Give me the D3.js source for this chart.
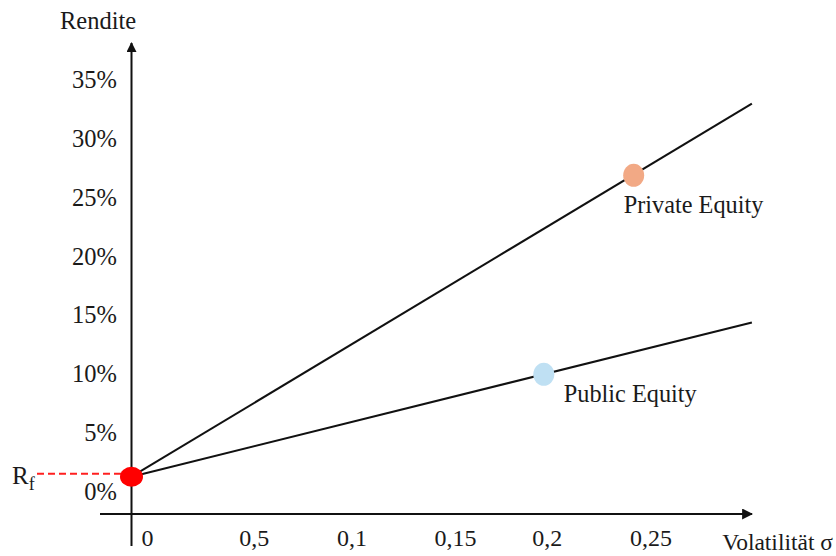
<!DOCTYPE html>
<html>
<head>
<meta charset="utf-8">
<script src="https://cdn.jsdelivr.net/npm/d3@7"></script>
<style>
  html, body { margin: 0; padding: 0; background: #fff; }
  svg text { font-family: "Liberation Serif", "Times New Roman", serif; fill: #1a1a1a; }
</style>
</head>
<body>
<svg id="chart" width="836" height="556"></svg>
<script>
// Tick values and their printed labels
const xTickValues = [0, 0.05, 0.1, 0.15, 0.2, 0.25];
const xTickLabels = ["0", "0,5", "0,1", "0,15", "0,2", "0,25"];
const yTickValues = [0, 5, 10, 15, 20, 25, 30, 35];
const yTickLabels = ["0%", "5%", "10%", "15%", "20%", "25%", "30%", "35%"];

// Risk-free rate (return in %, at zero volatility)
const riskFreeReturn = 1.3;

// Asset classes: volatility, return (%), and where each capital market line ends
const assetNames = ["Private Equity", "Public Equity"];
const assetVolatility = [0.257, 0.211];
const assetReturn = [26.9, 10.0];
const lineEndVolatility = [0.3175, 0.3175];
const lineEndReturn = [33.0, 14.4];
const assetColors = ["#f2a985", "#bfe0f3"];

const svg = d3.select("#chart");

const x = d3.scaleLinear().domain([0, 0.3]).range([131.5, 717.7]);
const y = d3.scaleLinear().domain([0, 35]).range([492, 80]);

// Arrow marker for both axes
svg.append("defs").append("marker")
  .attr("id", "arrow")
  .attr("viewBox", "0 0 10 10")
  .attr("refX", 9).attr("refY", 5)
  .attr("markerWidth", 5).attr("markerHeight", 5)
  .attr("markerUnits", "strokeWidth")
  .attr("orient", "auto")
  .append("path").attr("d", "M0,0 L10,5 L0,10 Z").attr("fill", "#111");

const axisY = 514;

// Horizontal axis
svg.append("line")
  .attr("x1", 100).attr("y1", axisY)
  .attr("x2", 752).attr("y2", axisY)
  .attr("stroke", "#111").attr("stroke-width", 2.2)
  .attr("marker-end", "url(#arrow)");

// Vertical axis
svg.append("line")
  .attr("x1", x(0)).attr("y1", 546)
  .attr("x2", x(0)).attr("y2", 43)
  .attr("stroke", "#111").attr("stroke-width", 2)
  .attr("marker-end", "url(#arrow)");

// Axis titles
svg.append("text").attr("x", 60).attr("y", 29)
  .attr("font-size", 24.5).text("Rendite");
svg.append("text").attr("x", 833).attr("y", 550)
  .attr("text-anchor", "end")
  .attr("font-size", 23.5).text("Volatilität σ");

// Y tick labels
svg.append("g").selectAll("text")
  .data(yTickValues)
  .join("text")
  .attr("x", 117)
  .attr("y", d => y(d) + 8)
  .attr("text-anchor", "end")
  .attr("font-size", 24.5)
  .text((d, i) => yTickLabels[i]);

// X tick labels
svg.append("g").selectAll("text")
  .data(xTickValues)
  .join("text")
  .attr("x", d => x(d) + 10)
  .attr("y", 546)
  .attr("font-size", 24)
  .text((d, i) => xTickLabels[i]);

// Capital market lines from the risk-free rate
svg.append("g").selectAll("line")
  .data(assetNames)
  .join("line")
  .attr("x1", x(0)).attr("y1", y(riskFreeReturn))
  .attr("x2", (d, i) => x(lineEndVolatility[i]))
  .attr("y2", (d, i) => y(lineEndReturn[i]))
  .attr("stroke", "#111").attr("stroke-width", 2);

// Dashed guide to the R_f label
svg.append("line")
  .attr("x1", 37).attr("y1", y(riskFreeReturn) - 3)
  .attr("x2", x(0)).attr("y2", y(riskFreeReturn) - 3)
  .attr("stroke", "#ff2020").attr("stroke-width", 2)
  .attr("stroke-dasharray", "7,4");

const rf = svg.append("text").attr("x", 12).attr("y", 484).attr("font-size", 25);
rf.append("tspan").text("R");
rf.append("tspan").attr("font-size", 18).attr("dy", 6).text("f");

// Risk-free point
svg.append("ellipse")
  .attr("cx", x(0)).attr("cy", y(riskFreeReturn))
  .attr("rx", 11.5).attr("ry", 10)
  .attr("fill", "#ff0000");

// Asset points and labels
const labelOffset = [[-10, 38], [20, 28]];
svg.append("g").selectAll("ellipse")
  .data(assetNames)
  .join("ellipse")
  .attr("cx", (d, i) => x(assetVolatility[i]))
  .attr("cy", (d, i) => y(assetReturn[i]))
  .attr("rx", 10.5).attr("ry", 11.5)
  .attr("fill", (d, i) => assetColors[i]);

svg.append("g").selectAll("text")
  .data(assetNames)
  .join("text")
  .attr("x", (d, i) => x(assetVolatility[i]) + labelOffset[i][0])
  .attr("y", (d, i) => y(assetReturn[i]) + labelOffset[i][1])
  .attr("font-size", 24.3)
  .text(d => d);
</script>
</body>
</html>
